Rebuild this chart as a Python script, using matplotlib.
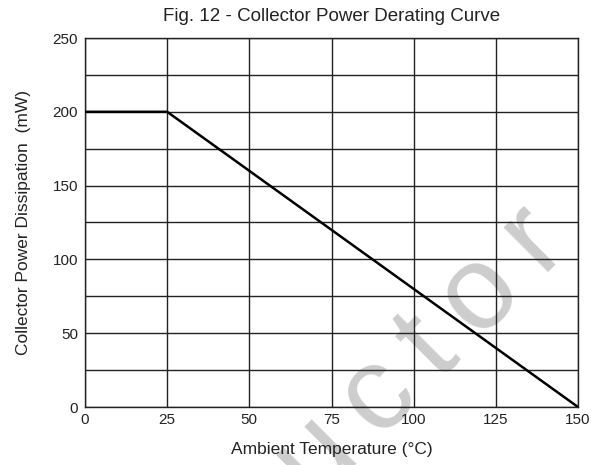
import matplotlib.pyplot as plt
from matplotlib.ticker import MultipleLocator

plt.rcParams['font.family'] = ['Liberation Sans', 'DejaVu Sans']

# derating curve: flat up to 25 C, then linear down to zero at 150 C
temp = [0, 25, 150]
power = [200, 200, 0]

x_ticks = [0, 25, 50, 75, 100, 125, 150]
y_ticks = [0, 50, 100, 150, 200, 250]

fig = plt.figure(figsize=(6, 4.65), dpi=100)
ax = fig.add_axes([85 / 600, 1 - 407 / 465, 493 / 600, 369 / 465])

ax.plot(temp, power, color='black', linewidth=1.8, zorder=3, solid_capstyle='butt')

ax.set_xlim(0, 150)
ax.set_ylim(0, 250)
ax.set_xticks(x_ticks)
ax.set_yticks(y_ticks)
ax.yaxis.set_minor_locator(MultipleLocator(25))
ax.grid(True, which='both', color='#222222', linewidth=1.0)
ax.tick_params(which='both', length=0, labelsize=11, colors='#222222')
ax.tick_params(axis='x', pad=4)
ax.tick_params(axis='y', pad=5)
for s in ax.spines.values():
    s.set_color('#222222')
    s.set_linewidth(1.0)

ax.set_xlabel('Ambient Temperature (°C)', fontsize=12.5, color='#222222', va='center')
ax.set_ylabel('Collector Power Dissipation  (mW)', fontsize=12.5, color='#222222', va='center')
ax.xaxis.set_label_coords(0.5, (407 - 449) / 369)
ax.yaxis.set_label_coords((24 - 85) / 493, 0.5)
ax.set_title('Fig. 12 - Collector Power Derating Curve', fontsize=13.5, color='#222222', pad=12)

# faint diagonal watermark, letter-spaced, behind the grid
mark = '\u2009'.join('Semiconductor')
ax.text(571 / 600, 1 - 249 / 465, mark, transform=fig.transFigure,
        fontsize=86, color='#cdcdcd', rotation=45, ha='right', va='baseline',
        rotation_mode='anchor', zorder=0.5, clip_on=False)

fig.savefig('out.png', dpi=100)
